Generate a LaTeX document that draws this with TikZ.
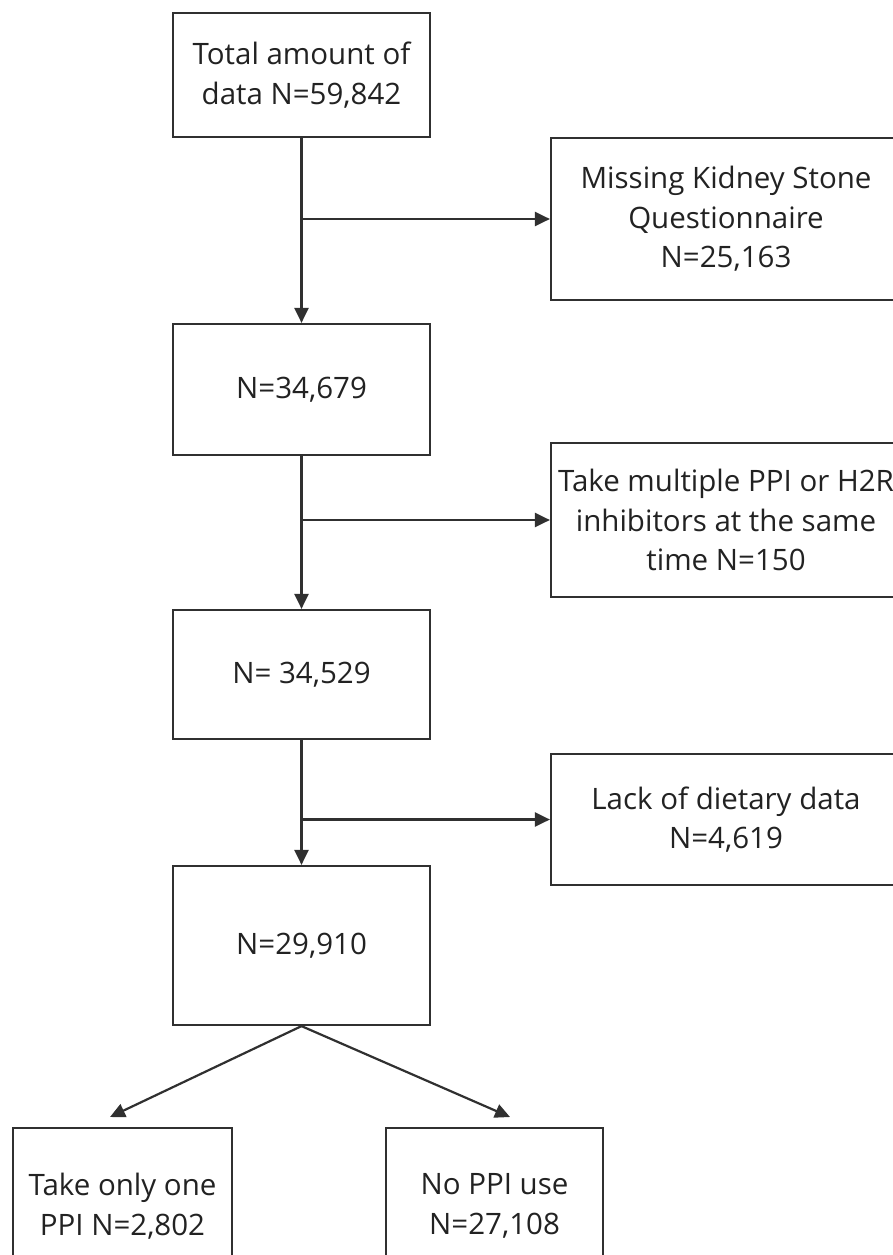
\documentclass[tikz,border=0pt]{standalone}
\usepackage{fontspec}
\setmainfont{Open Sans}
\usetikzlibrary{arrows.meta}
\definecolor{ln}{HTML}{303030}
\definecolor{tx}{HTML}{222222}
\begin{document}
\begin{tikzpicture}[x=1pt,y=-1pt,
  box/.style={draw=ln,line width=2.2pt,inner sep=0pt,align=center,
    font=\fontsize{29.5}{39.5}\selectfont,text=tx},
  arr/.style={draw=ln,line width=2.2pt,-{Triangle[length=15pt,width=14pt]}}]
\useasboundingbox (0,0) rectangle (892,1255);
\node[box,minimum width=257pt,minimum height=124pt] (b1) at (301.5,75) {Total amount of\\data N=59,842};
\node[box,minimum width=257pt,minimum height=131pt] (b2) at (301.5,389.5) {N=34,679};
\node[box,minimum width=257pt,minimum height=129pt] (b3) at (301.5,674.5) {N= 34,529};
\node[box,minimum width=257pt,minimum height=159pt] (b4) at (301.5,945.5) {N=29,910};
\node[box,minimum width=350pt,minimum height=162pt] (r1) at (726,219) {Missing Kidney Stone\\Questionnaire\\N=25,163};
\node[box,minimum width=350pt,minimum height=154pt] (r2) at (726,520) {Take multiple PPI or H2R\\inhibitors at the same\\time N=150};
\node[box,minimum width=350pt,minimum height=131pt] (r3) at (726,819.5) {Lack of dietary data\\N=4,619};
\node[box,minimum width=219pt,minimum height=156pt] (bl) at (122.5,1206) {Take only one\\PPI N=2,802};
\node[box,minimum width=217pt,minimum height=156pt] (br) at (494.5,1206) {No PPI use\\N=27,108};
\draw[arr] (b1) -- (b2);
\draw[arr] (b2) -- (b3);
\draw[arr] (b3) -- (b4);
\coordinate (j1) at (b1.south |- r1.west);
\coordinate (j2) at (b2.south |- r2.west);
\coordinate (j3) at (b3.south |- r3.west);
\draw[arr] (j1) -- (r1.west);
\draw[arr] (j2) -- (r2.west);
\draw[arr] (j3) -- (r3.west);
\coordinate (t1) at (110,1117);
\coordinate (t2) at (510,1117);
\draw[arr] (b4.south) -- (t1);
\draw[arr] (b4.south) -- (t2);
\end{tikzpicture}
\end{document}
